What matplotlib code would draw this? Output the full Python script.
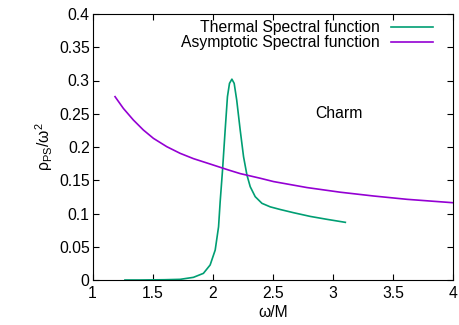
import matplotlib
matplotlib.use("Agg")
import matplotlib.pyplot as plt

plt.rcParams['font.family'] = ['Liberation Sans', 'DejaVu Sans']
plt.rcParams['mathtext.fontset'] = 'custom'
plt.rcParams['mathtext.rm'] = 'Liberation Sans'
plt.rcParams['mathtext.it'] = 'Liberation Sans:italic'

# thermal spectral function
thermal_w = [1.27, 1.4, 1.5, 1.6, 1.73, 1.84, 1.923, 1.979, 2.021, 2.049, 2.0625,
             2.082, 2.104, 2.123, 2.140, 2.16, 2.179, 2.2, 2.229, 2.257, 2.285,
             2.3125, 2.354, 2.41, 2.479, 2.5625, 2.673, 2.8125, 2.952, 3.104]
thermal_rho = [0.0, 0.0, 0.0002, 0.0004, 0.001, 0.004, 0.010, 0.0226, 0.045, 0.08, 0.118,
               0.165, 0.2256, 0.2757, 0.2957, 0.302, 0.2957, 0.2707, 0.2256, 0.1854, 0.158,
               0.1403, 0.1253, 0.1153, 0.110, 0.106, 0.1012, 0.0956, 0.0912, 0.0867]

# asymptotic spectral function
asym_w = [1.1875, 1.257, 1.340, 1.423, 1.507, 1.618, 1.729, 1.840, 1.979, 2.132,
          2.229, 2.396, 2.507, 2.785, 3.0625, 3.34, 3.618, 3.993]
asym_rho = [0.2757, 0.258, 0.2406, 0.2256, 0.213, 0.2005, 0.1905, 0.1825, 0.1744, 0.1654,
            0.160, 0.153, 0.148, 0.139, 0.132, 0.1263, 0.1213, 0.1163]

xticks = [1, 1.5, 2, 2.5, 3, 3.5, 4]
yticks = [0, 0.05, 0.1, 0.15, 0.2, 0.25, 0.3, 0.35, 0.4]

fs = 11.3

fig = plt.figure(figsize=(4.59, 3.25), dpi=100)
ax = fig.add_axes([92.5 / 459, 45 / 325, 360.5 / 459, 266 / 325])

ax.plot(thermal_w, thermal_rho, color='#009e73', lw=1.2, label='Thermal Spectral function')
ax.plot(asym_w, asym_rho, color='#9400d3', lw=1.2, label='Asymptotic Spectral function')

ax.set_xlim(1, 4)
ax.set_ylim(0, 0.4)
ax.set_xticks(xticks)
ax.set_xticklabels([f"{t:g}" for t in xticks])
ax.set_yticks(yticks)
ax.set_yticklabels([f"{t:g}" for t in yticks])
ax.tick_params(direction='in', length=4, width=0.8, labelsize=fs,
               top=True, right=True)
ax.tick_params(axis='x', pad=4)
ax.tick_params(axis='y', pad=2)

ax.set_xlabel('ω/M', fontsize=fs, labelpad=3)
ax.set_ylabel(r'$\mathrm{\rho_{PS}/\omega^2}$', fontsize=fs, labelpad=3)

ax.text(3.05, 0.251, 'Charm', fontsize=fs, ha='center', va='center')

ax.legend(loc='upper right', bbox_to_anchor=(0.962, 1.0), frameon=False,
          markerfirst=False, fontsize=11.3, handlelength=2.7, labelspacing=0.0,
          borderpad=0.2, borderaxespad=0.2, handletextpad=0.7)

fig.savefig('out.png', dpi=100)
